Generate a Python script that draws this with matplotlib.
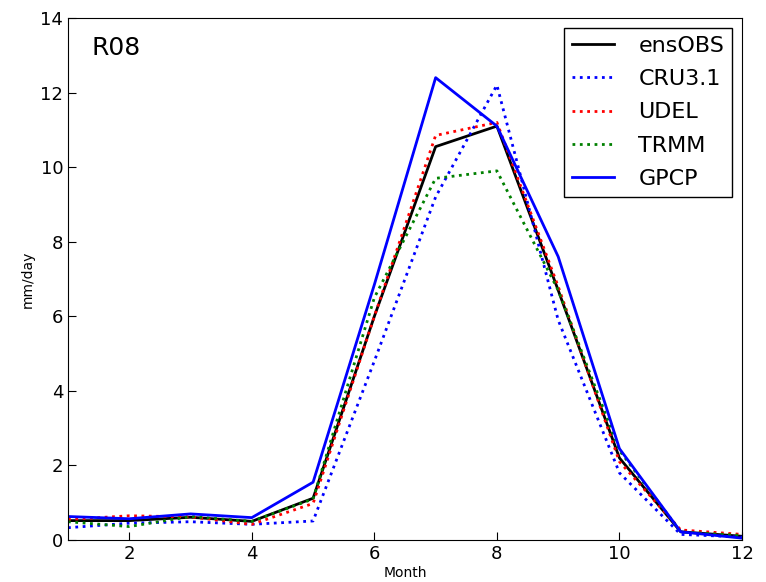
import matplotlib
matplotlib.use("Agg")
import matplotlib.pyplot as plt

months = [1, 2, 3, 4, 5, 6, 7, 8, 9, 10, 11, 12]
ensOBS = [0.52, 0.52, 0.61, 0.50, 1.12, 6.0, 10.55, 11.1, 6.7, 2.2, 0.22, 0.1]
cru = [0.33, 0.45, 0.49, 0.42, 0.51, 4.8, 9.2, 12.2, 5.9, 1.8, 0.15, 0.08]
udel = [0.55, 0.65, 0.62, 0.42, 0.98, 6.0, 10.85, 11.2, 6.8, 2.1, 0.27, 0.15]
trmm = [0.49, 0.36, 0.63, 0.50, 1.1, 6.5, 9.7, 9.9, 6.7, 2.4, 0.22, 0.12]
gpcp = [0.63, 0.57, 0.70, 0.60, 1.55, 6.85, 12.4, 11.1, 7.6, 2.45, 0.22, 0.05]

fig = plt.figure(figsize=(7.66, 5.82), dpi=100)
ax = fig.add_axes([68/766, 1-540/582, (742-68)/766, (540-18)/582])

ax.plot(months, ensOBS, color='k', lw=2, label='ensOBS')
ax.plot(months, cru, color='b', lw=2, ls=':', label='CRU3.1')
ax.plot(months, udel, color='r', lw=2, ls=':', label='UDEL')
ax.plot(months, trmm, color='g', lw=2, ls=':', label='TRMM')
ax.plot(months, gpcp, color='b', lw=2, label='GPCP')

ax.set_xlim(1, 12)
ax.set_ylim(0, 14)
ax.set_xticks([2, 4, 6, 8, 10, 12])
ax.set_yticks([0, 2, 4, 6, 8, 10, 12, 14])
ax.tick_params(direction='in', labelsize=13, length=6)
ax.set_xlabel('Month', fontsize=10, labelpad=2)
ax.set_ylabel('mm/day', fontsize=10, labelpad=4)
ax.text(0.035, 0.965, 'R08', transform=ax.transAxes, fontsize=18, va='top', ha='left')
leg = ax.legend(loc='upper right', fontsize=16, fancybox=False, framealpha=1,
                edgecolor='k', handlelength=1.9, handletextpad=1.1, borderpad=0.35,
                labelspacing=0.6, borderaxespad=0.45)
leg.get_frame().set_linewidth(1)

fig.savefig('out.png', dpi=100)
